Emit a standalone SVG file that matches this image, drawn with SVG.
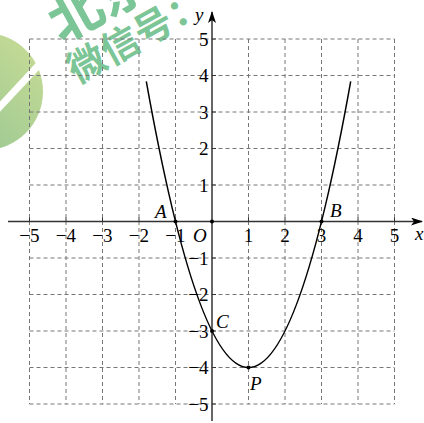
<svg xmlns="http://www.w3.org/2000/svg" width="424" height="423" viewBox="0 0 424 423">
<defs>
<linearGradient id="wg" x1="0" y1="1" x2="1" y2="0">
<stop offset="0" stop-color="#8fc393"/>
<stop offset="1" stop-color="#cadd95"/>
</linearGradient>
<marker id="arr" viewBox="0 0 12 8" refX="11" refY="4" markerWidth="12" markerHeight="8" markerUnits="userSpaceOnUse" orient="auto">
<path d="M0,0 L12,4 L0,8 L3,4 Z" fill="#000"/>
</marker>
<style>
.grid{stroke:#777;stroke-width:1;stroke-dasharray:4 3;fill:none}
.axis{stroke:#333;stroke-width:1.5;fill:none}
.tick{stroke:#333;stroke-width:1}
.num{font-size:19px;fill:#000}
.lbl{font-size:19px;font-style:italic;fill:#000}
.wm{font-weight:bold;fill:#7cc596}
.dot{fill:#000}
</style>
</defs>
<rect width="424" height="423" fill="#fff"/>
<g id="watermark" font-family="'Noto Sans CJK SC', 'Noto Sans', sans-serif">
<circle cx="-15.6" cy="91.5" r="58.6" fill="url(#wg)"/>
<line x1="50" y1="53" x2="-6" y2="113" stroke="#fff" stroke-width="7"/>
<text class="wm" font-size="54" transform="translate(76,14) rotate(-29)" x="-27" y="19">北京</text>
<text class="wm" font-size="38" transform="translate(87,64) rotate(-29)" x="-19" y="13">微信号：</text>
</g>
<g id="grid">
<path class="grid" d="M29.5,39V404M66,39V404M102.5,39V404M139,39V404M175.5,39V404M248.5,39V404M285,39V404M321.5,39V404M358,39V404M394.5,39V404"/>
<path class="grid" d="M29.5,39H394.5M29.5,75.5H394.5M29.5,112H394.5M29.5,148.5H394.5M29.5,185H394.5M29.5,258H394.5M29.5,294.5H394.5M29.5,331H394.5M29.5,367.5H394.5M29.5,404H394.5"/>
</g>
<g id="axes">
<line class="axis" x1="8" y1="221.5" x2="422" y2="221.5" marker-end="url(#arr)"/>
<line class="axis" x1="212" y1="421" x2="212" y2="12" marker-end="url(#arr)"/>
<path class="tick" d="M29.5,221.5v-4M66,221.5v-4M102.5,221.5v-4M139,221.5v-4M175.5,221.5v-4M248.5,221.5v-4M285,221.5v-4M321.5,221.5v-4M358,221.5v-4M394.5,221.5v-4"/>
<path class="tick" d="M212,39h4M212,75.5h4M212,112h4M212,148.5h4M212,185h4M212,258h4M212,294.5h4M212,331h4M212,367.5h4M212,404h4"/>
</g>
<g id="ticklabels" font-family="'Liberation Serif', 'Times New Roman', serif">
<text class="num" text-anchor="end" x="39.5" y="241.5">−5</text>
<text class="num" text-anchor="end" x="76" y="241.5">−4</text>
<text class="num" text-anchor="end" x="112.5" y="241.5">−3</text>
<text class="num" text-anchor="end" x="149" y="241.5">−2</text>
<text class="num" text-anchor="end" x="185.5" y="241.5">−1</text>
<text class="num" text-anchor="middle" x="248.5" y="241.5">1</text>
<text class="num" text-anchor="middle" x="285" y="241.5">2</text>
<text class="num" text-anchor="middle" x="321.5" y="241.5">3</text>
<text class="num" text-anchor="middle" x="358" y="241.5">4</text>
<text class="num" text-anchor="middle" x="394.5" y="241.5">5</text>
<text class="num" text-anchor="end" x="208.5" y="45.5">5</text>
<text class="num" text-anchor="end" x="208.5" y="82">4</text>
<text class="num" text-anchor="end" x="208.5" y="118.5">3</text>
<text class="num" text-anchor="end" x="208.5" y="155">2</text>
<text class="num" text-anchor="end" x="208.5" y="191.5">1</text>
<text class="num" text-anchor="end" x="208.5" y="264.5">−1</text>
<text class="num" text-anchor="end" x="208.5" y="301">−2</text>
<text class="num" text-anchor="end" x="208.5" y="337.5">−3</text>
<text class="num" text-anchor="end" x="208.5" y="374">−4</text>
<text class="num" text-anchor="end" x="208.5" y="410.5">−5</text>
</g>
<g id="curve">
<path d="M146.3,81.34 Q248.5,653.66 350.7,81.34" fill="none" stroke="#000" stroke-width="1.5"/>
</g>
<g id="points">
<circle class="dot" cx="175.5" cy="221.5" r="2"/>
<circle class="dot" cx="321.5" cy="221.5" r="2"/>
<circle class="dot" cx="212" cy="221.5" r="2"/>
<circle class="dot" cx="212" cy="331" r="2"/>
<circle class="dot" cx="248.5" cy="367.5" r="2"/>
</g>
<g id="labels" font-family="'Liberation Serif', 'Times New Roman', serif">
<text class="lbl" x="155" y="218">A</text>
<text class="lbl" x="330" y="217">B</text>
<text class="lbl" x="216" y="328">C</text>
<text class="lbl" x="250" y="390">P</text>
<text class="lbl" x="193" y="241.5">O</text>
<text class="lbl" x="415" y="240">x</text>
<text class="lbl" x="195" y="21">y</text>
</g>
</svg>
